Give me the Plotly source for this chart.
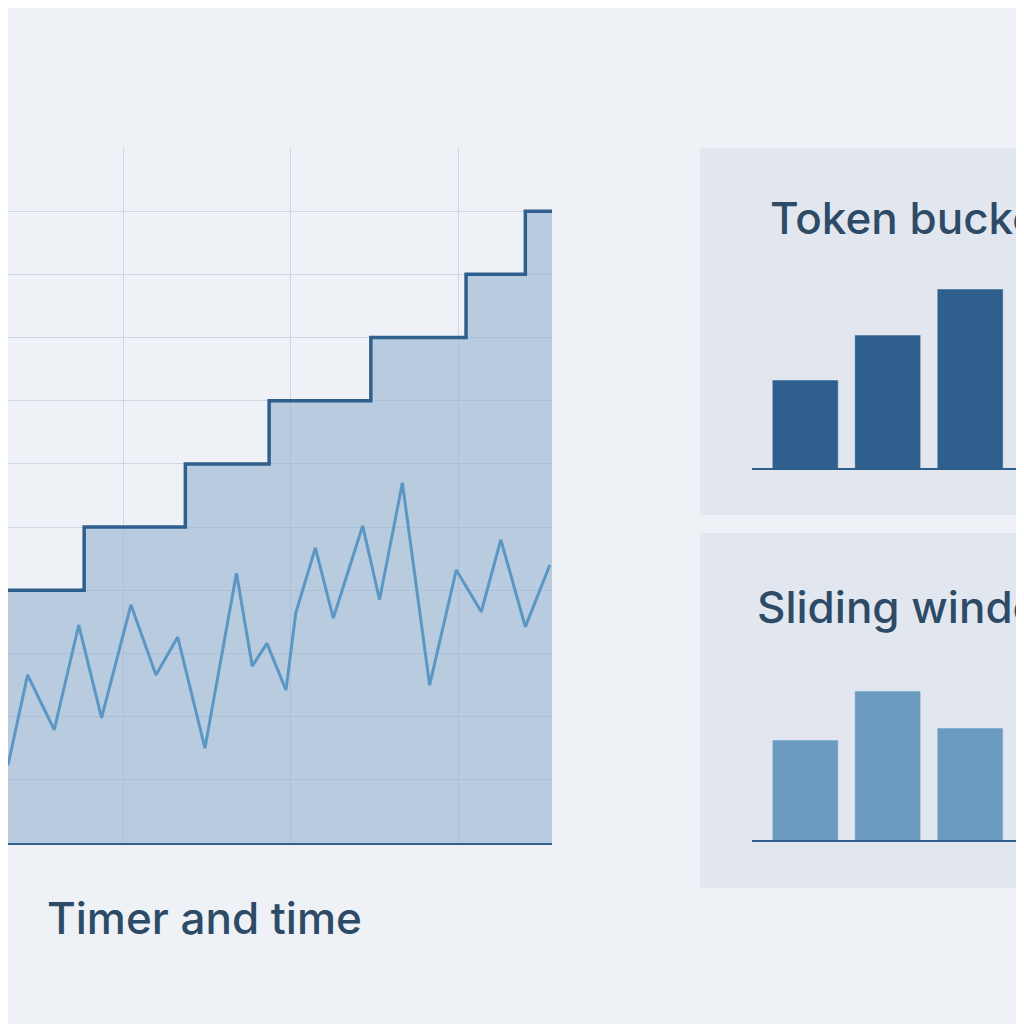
import plotly.graph_objects as go

# left chart: step line (limit) and noisy request line
step_x = [0, 14, 32.6, 48, 66.7, 84.2, 95.1, 100]
step_y = [4, 5, 6, 7, 8, 9, 10, 10]
noise_x = [0, 3.6, 6.3, 8.5, 13, 17.2, 22.6, 27.2, 31.2, 36.2, 42, 44.9, 47.6, 51.1,
           52.9, 56.5, 59.8, 65.2, 68.3, 72.5, 77.5, 82.4, 87, 90.6, 95.1, 99.6]
noise_y = [1.23, 2.66, 2.18, 1.79, 3.45, 1.98, 3.77, 2.66, 3.26, 1.5, 4.27, 2.8, 3.16,
           2.42, 3.64, 4.67, 3.56, 5.02, 3.85, 5.7, 2.5, 4.32, 3.66, 4.8, 3.42, 4.4]

# right panels
bucket_vals = [90, 135, 181, 90]
window_vals = [102, 151, 114, 57]
bar_pos = [0, 1, 2, 3]

BG = "#eef1f6"
PANEL = "#e2e7ef"
TEXT = "#2d4a66"
DARK = "#2f5f8d"
LIGHT = "#6b9bc1"
GRID = "#cdd6e2"
OFF = 8  # page margin of the browser


def px(p):
    return (p - OFF) / 1024


def py(p):
    return 1 - (p - OFF) / 1024


fig = go.Figure()
fig.add_trace(go.Scatter(x=step_x, y=step_y, mode="lines", line_shape="hv",
                         line=dict(color=DARK, width=3.5), fill="tozeroy",
                         fillcolor="rgba(150,178,206,0.6)", xaxis="x", yaxis="y"))
fig.add_trace(go.Scatter(x=noise_x, y=noise_y, mode="lines",
                         line=dict(color="#5b97c4", width=3), xaxis="x", yaxis="y"))
fig.add_trace(go.Bar(x=bar_pos, y=bucket_vals, width=0.8, marker_color=DARK,
                     xaxis="x2", yaxis="y2"))
fig.add_trace(go.Bar(x=bar_pos, y=window_vals, width=0.8, marker_color=LIGHT,
                     xaxis="x3", yaxis="y3"))

ax_off = dict(showgrid=False, zeroline=False, showticklabels=False, ticks="")
tfont = dict(family="Inter", size=44, color=TEXT, weight=500)
fig.update_layout(
    width=1024, height=1024, margin=dict(l=0, r=0, t=0, b=0),
    paper_bgcolor=BG, plot_bgcolor="rgba(0,0,0,0)", showlegend=False,
    xaxis=dict(domain=[0, px(552)], range=[0, 100], tickvals=[21.2, 52, 82.8],
               showgrid=True, gridcolor=GRID, zeroline=False, showticklabels=False,
               showline=True, linecolor=DARK, linewidth=2),
    yaxis=dict(domain=[py(843), py(148)], range=[0, 11], dtick=1, showgrid=True,
               gridcolor=GRID, zeroline=False, showticklabels=False),
    xaxis2=dict(domain=[px(752), 1], range=[-0.646, 2.75], anchor="y2", **ax_off),
    yaxis2=dict(domain=[py(470), py(148)], range=[0, 322], anchor="x2", **ax_off),
    xaxis3=dict(domain=[px(752), 1], range=[-0.646, 2.75], anchor="y3", **ax_off),
    yaxis3=dict(domain=[py(842), py(533)], range=[0, 309], anchor="x3", **ax_off),
    shapes=[
        dict(type="rect", xref="paper", yref="paper", x0=px(700), x1=1.01, y0=py(515),
             y1=py(148), fillcolor=PANEL, line_width=0, layer="below"),
        dict(type="rect", xref="paper", yref="paper", x0=px(700), x1=1.01, y0=py(888),
             y1=py(533), fillcolor=PANEL, line_width=0, layer="below"),
        dict(type="line", xref="paper", yref="paper", x0=px(752), x1=1.01, y0=py(469),
             y1=py(469), line=dict(color=DARK, width=2)),
        dict(type="line", xref="paper", yref="paper", x0=px(752), x1=1.01, y0=py(841),
             y1=py(841), line=dict(color=DARK, width=2)),
    ],
    annotations=[
        dict(text="Timer and time", x=px(45), y=py(918), xref="paper", yref="paper",
             xanchor="left", yanchor="middle", showarrow=False, font=tfont),
        dict(text="Token bucket", x=px(768), y=py(218), xref="paper", yref="paper",
             xanchor="left", yanchor="middle", showarrow=False, font=tfont),
        dict(text="Sliding window", x=px(755), y=py(607), xref="paper", yref="paper",
             xanchor="left", yanchor="middle", showarrow=False, font=tfont),
    ],
)

fig.write_html("out.html")
